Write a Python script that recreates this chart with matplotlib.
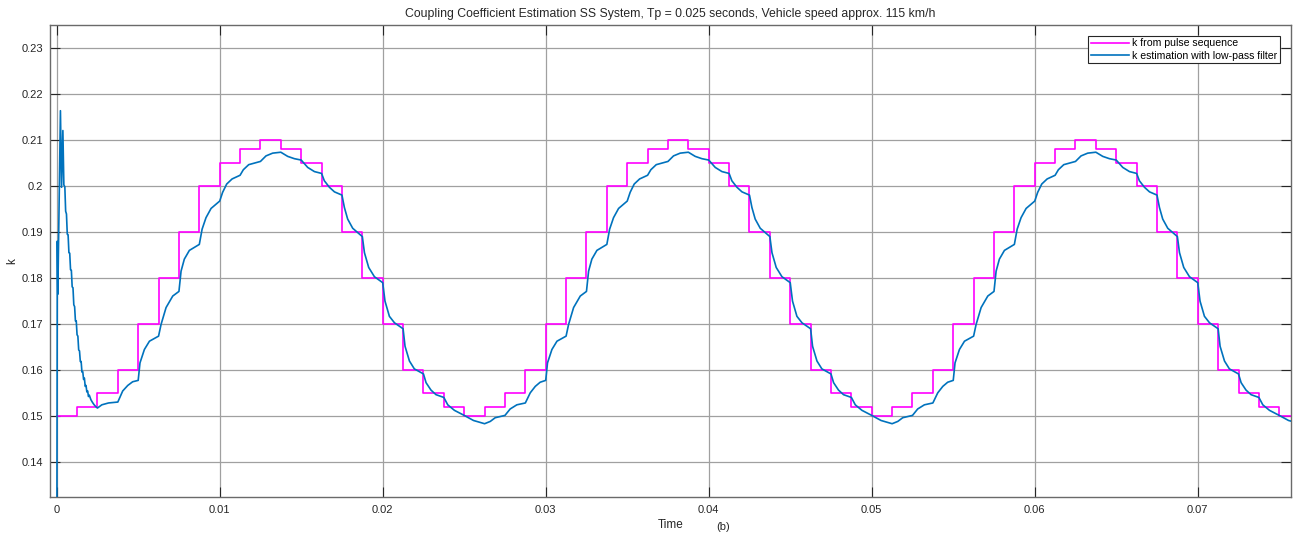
import matplotlib
matplotlib.use('Agg')
import matplotlib.pyplot as plt
import numpy as np

plt.rcParams['font.family'] = ['Liberation Sans', 'DejaVu Sans']

# ---------------- data ----------------
pulse_dt = 0.00125
pulse_k = [
    0.15, 0.152, 0.155, 0.16, 0.17, 0.18, 0.19, 0.20, 0.205, 0.208,
    0.21, 0.208, 0.205, 0.20, 0.19, 0.18, 0.17, 0.16, 0.155, 0.152,
    0.15, 0.152, 0.155, 0.16, 0.17, 0.18, 0.19, 0.20, 0.205, 0.208,
    0.21, 0.208, 0.205, 0.20, 0.19, 0.18, 0.17, 0.16, 0.155, 0.152,
    0.15, 0.152, 0.155, 0.16, 0.17, 0.18, 0.19, 0.20, 0.205, 0.208,
    0.21, 0.208, 0.205, 0.20, 0.19, 0.18, 0.17, 0.16, 0.155, 0.152,
    0.15,
]

# low-pass estimate: start-up transient
est_t_start = [0.0, 0.00004, 0.00007, 0.00023, 0.00030, 0.00038, 0.00044,
               0.00050, 0.00055, 0.00060, 0.00065, 0.00070, 0.00075, 0.00080,
               0.00085, 0.00090, 0.00095, 0.00100, 0.00105, 0.00110, 0.00115,
               0.00120, 0.00125, 0.00130, 0.00135, 0.00140, 0.00145, 0.00150,
               0.00155, 0.00160, 0.00165, 0.00170, 0.00175, 0.00180, 0.00185,
               0.00190, 0.00195, 0.00200, 0.00210, 0.00220, 0.00230, 0.00240,
               0.00250, 0.00277, 0.00318, 0.00375]
est_k_start = [0.100, 0.1880, 0.1765, 0.2163, 0.1997, 0.2120, 0.2002,
               0.1998, 0.1945, 0.1939, 0.1895, 0.1894, 0.1855, 0.1854,
               0.1818, 0.1817, 0.1781, 0.1779, 0.1742, 0.1738, 0.1707,
               0.1707, 0.1677, 0.1674, 0.1644, 0.1642, 0.1619, 0.1619,
               0.1596, 0.1597, 0.1580, 0.1583, 0.1565, 0.1567, 0.1553,
               0.1555, 0.1543, 0.1546, 0.1536, 0.1530, 0.1525, 0.1521,
               0.1518, 0.1525, 0.1529, 0.1531]

# period 1 (after start-up)
est_t_p1 = [0.00405, 0.00436, 0.00466, 0.00500, 0.00511, 0.00538, 0.00569,
            0.00625, 0.00640, 0.00671, 0.00712, 0.00750, 0.00763, 0.00783,
            0.00814, 0.00875, 0.00892, 0.00916, 0.00947, 0.01000, 0.01018,
            0.01043, 0.01076, 0.01125, 0.01145, 0.01178, 0.01250, 0.01284,
            0.01325, 0.01375, 0.01417, 0.01458, 0.01500, 0.01540, 0.01581,
            0.01625, 0.01642, 0.01673, 0.01704, 0.01750, 0.01765, 0.01785,
            0.01816, 0.01875, 0.01888, 0.01914, 0.01949, 0.02000, 0.02014,
            0.02041, 0.02072, 0.02125, 0.02137, 0.02164, 0.02194, 0.02250,
            0.02266, 0.02296, 0.02327, 0.02375, 0.02399, 0.02440]
est_k_p1 = [0.1555, 0.1567, 0.1575, 0.1578, 0.1616, 0.1645, 0.1663,
            0.1674, 0.1699, 0.1736, 0.1761, 0.1771, 0.1815, 0.1841,
            0.1860, 0.1873, 0.1906, 0.1931, 0.1951, 0.1967, 0.1986,
            0.2004, 0.2015, 0.2023, 0.2035, 0.2046, 0.2053, 0.2065,
            0.2071, 0.2073, 0.2064, 0.2059, 0.2056, 0.2040, 0.2031,
            0.2027, 0.2011, 0.1997, 0.1987, 0.1980, 0.1953, 0.1928,
            0.1908, 0.1890, 0.1855, 0.1823, 0.1803, 0.1790, 0.1750,
            0.1717, 0.1703, 0.1690, 0.1652, 0.1620, 0.1603, 0.1592,
            0.1573, 0.1557, 0.1547, 0.1541, 0.1525, 0.1513]

# period 2
est_t_p2 = [0.02500, 0.02557, 0.02625, 0.02660, 0.02690, 0.02750, 0.02782,
            0.02823, 0.02875, 0.02905, 0.02936, 0.02966, 0.03000, 0.03011,
            0.03038, 0.03069, 0.03125, 0.03140, 0.03171, 0.03212, 0.03250,
            0.03263, 0.03283, 0.03314, 0.03375, 0.03392, 0.03416, 0.03447,
            0.03500, 0.03518, 0.03543, 0.03576, 0.03625, 0.03645, 0.03678,
            0.03750, 0.03784, 0.03825, 0.03875, 0.03917, 0.03958, 0.04000,
            0.04040, 0.04081, 0.04125, 0.04142, 0.04173, 0.04204, 0.04250,
            0.04265, 0.04285, 0.04316, 0.04375, 0.04388, 0.04414, 0.04449,
            0.04500, 0.04514, 0.04541, 0.04572, 0.04625, 0.04637, 0.04664,
            0.04694, 0.04750, 0.04766, 0.04796, 0.04827, 0.04875, 0.04899,
            0.04940]
est_k_p2 = [0.1502, 0.1491, 0.1484, 0.1489, 0.1497, 0.1502, 0.1516,
            0.1525, 0.1529, 0.1551, 0.1565, 0.1574, 0.1578, 0.1616,
            0.1645, 0.1663, 0.1674, 0.1699, 0.1736, 0.1761, 0.1771,
            0.1815, 0.1841, 0.1860, 0.1873, 0.1906, 0.1931, 0.1951,
            0.1967, 0.1986, 0.2004, 0.2015, 0.2023, 0.2035, 0.2046,
            0.2053, 0.2065, 0.2071, 0.2073, 0.2064, 0.2059, 0.2056,
            0.2040, 0.2031, 0.2027, 0.2011, 0.1997, 0.1987, 0.1980,
            0.1953, 0.1928, 0.1908, 0.1890, 0.1855, 0.1823, 0.1803,
            0.1790, 0.1750, 0.1717, 0.1703, 0.1690, 0.1652, 0.1620,
            0.1603, 0.1592, 0.1573, 0.1557, 0.1547, 0.1541, 0.1525,
            0.1513]

# period 3
est_t_p3 = [0.05000, 0.05057, 0.05125, 0.05160, 0.05190, 0.05250, 0.05282,
            0.05323, 0.05375, 0.05405, 0.05436, 0.05466, 0.05500, 0.05511,
            0.05538, 0.05569, 0.05625, 0.05640, 0.05671, 0.05712, 0.05750,
            0.05763, 0.05783, 0.05814, 0.05875, 0.05892, 0.05916, 0.05947,
            0.06000, 0.06018, 0.06043, 0.06076, 0.06125, 0.06145, 0.06178,
            0.06250, 0.06284, 0.06325, 0.06375, 0.06417, 0.06458, 0.06500,
            0.06540, 0.06581, 0.06625, 0.06642, 0.06673, 0.06704, 0.06750,
            0.06765, 0.06785, 0.06816, 0.06875, 0.06888, 0.06914, 0.06949,
            0.07000, 0.07014, 0.07041, 0.07072, 0.07125, 0.07137, 0.07164,
            0.07194, 0.07250, 0.07266, 0.07296, 0.07327, 0.07375, 0.07399,
            0.07440, 0.07500, 0.07557, 0.07600]
est_k_p3 = [0.1502, 0.1491, 0.1484, 0.1489, 0.1497, 0.1502, 0.1516,
            0.1525, 0.1529, 0.1551, 0.1565, 0.1574, 0.1578, 0.1616,
            0.1645, 0.1663, 0.1674, 0.1699, 0.1736, 0.1761, 0.1771,
            0.1815, 0.1841, 0.1860, 0.1873, 0.1906, 0.1931, 0.1951,
            0.1967, 0.1986, 0.2004, 0.2015, 0.2023, 0.2035, 0.2046,
            0.2053, 0.2065, 0.2071, 0.2073, 0.2064, 0.2059, 0.2056,
            0.2040, 0.2031, 0.2027, 0.2011, 0.1997, 0.1987, 0.1980,
            0.1953, 0.1928, 0.1908, 0.1890, 0.1855, 0.1823, 0.1803,
            0.1790, 0.1750, 0.1717, 0.1703, 0.1690, 0.1652, 0.1620,
            0.1603, 0.1592, 0.1573, 0.1557, 0.1547, 0.1541, 0.1525,
            0.1513, 0.1502, 0.1491, 0.1487]

x_ticks = [0, 0.01, 0.02, 0.03, 0.04, 0.05, 0.06, 0.07]
x_tick_labels = ['0', '0.01', '0.02', '0.03', '0.04', '0.05', '0.06', '0.07']
y_ticks = [0.14, 0.15, 0.16, 0.17, 0.18, 0.19, 0.20, 0.21, 0.22, 0.23]
y_tick_labels = ['0.14', '0.15', '0.16', '0.17', '0.18', '0.19', '0.2', '0.21', '0.22', '0.23']

title = 'Coupling Coefficient Estimation SS System, Tp = 0.025 seconds, Vehicle speed approx. 115 km/h'

# ---------------- figure ----------------
W, H = 1303, 533
fig = plt.figure(figsize=(W / 100, H / 100), dpi=100)
ax = fig.add_axes([50 / W, (H - 497) / H, (1291 - 50) / W, (497 - 25) / H])

pulse_t = np.arange(len(pulse_k) + 1) * pulse_dt
pulse_k_ext = list(pulse_k) + [pulse_k[-1]]
ax.step(pulse_t, pulse_k_ext, where='post', color='#FF00FF', lw=1.2,
        label='k from pulse sequence', zorder=3)

est_t = est_t_start + est_t_p1 + est_t_p2 + est_t_p3
est_k = est_k_start + est_k_p1 + est_k_p2 + est_k_p3
ax.plot(est_t, est_k, color='#0072BD', lw=1.2,
        label='k estimation with low-pass filter', zorder=4)

ax.set_xlim(-0.00041, 0.07572)
ax.set_ylim(0.1325, 0.2349)
ax.set_xticks(x_ticks)
ax.set_xticklabels(x_tick_labels)
ax.set_yticks(y_ticks)
ax.set_yticklabels(y_tick_labels)

ax.grid(True, color='#a0a0a0', lw=0.9, zorder=0)
ax.tick_params(direction='in', length=7, width=0.8, colors='#262626',
               labelsize=8, top=True, right=True)
ax.tick_params(axis='x', pad=6)
ax.tick_params(axis='y', pad=5)
for s in ax.spines.values():
    s.set_color('#6a6a6a')
    s.set_linewidth(1.0)

ax.set_title(title, fontsize=8.8, color='#262626', pad=6)
ax.set_xlabel('Time', fontsize=8.5, color='#262626', labelpad=3)
ax.set_ylabel('k', fontsize=8.5, color='#262626', labelpad=2)

leg = ax.legend(loc='upper right', bbox_to_anchor=(0.991, 0.977),
                borderaxespad=0, fontsize=7.6, frameon=True, fancybox=False,
                edgecolor='#262626', framealpha=1, handlelength=3.6,
                handletextpad=0.3, borderpad=0.25, labelspacing=0.2)
leg.get_frame().set_linewidth(0.8)

fig.text(0.555, 1 / H, '(b)', ha='center', va='bottom', fontsize=8,
         color='#262626')

fig.savefig('out.png', dpi=100)
